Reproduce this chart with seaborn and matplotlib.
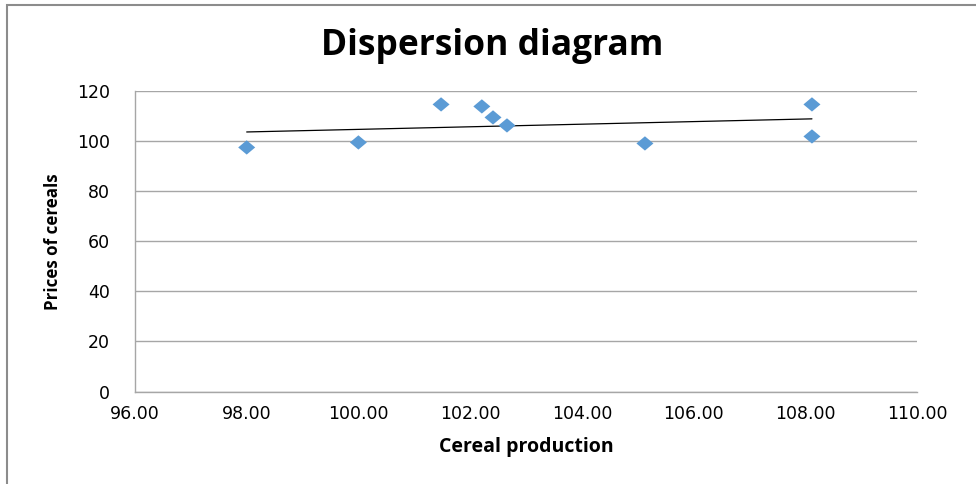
import matplotlib
matplotlib.use("Agg")
import matplotlib.pyplot as plt
from matplotlib.patches import Rectangle
import pandas as pd
import seaborn as sns

# Cereal production vs. prices of cereals
production = [98.00, 100.00, 101.48, 102.21, 102.41, 102.66, 105.13, 108.12, 108.12]
prices = [97.6, 99.6, 114.8, 114.0, 109.6, 106.4, 99.2, 114.8, 102.0]

x_ticks = [96, 98, 100, 102, 104, 106, 108, 110]
y_ticks = [0, 20, 40, 60, 80, 100, 120]

df = pd.DataFrame({"production": production, "prices": prices})

sns.set_theme(style="white")
plt.rcParams["font.family"] = ["Open Sans", "DejaVu Sans"]
plt.rcParams["text.color"] = "black"
plt.rcParams["axes.labelcolor"] = "black"

fig = plt.figure(figsize=(9.76, 4.84), dpi=100)
ax = fig.add_axes([0.1383, 0.1911, 0.8012, 0.6200])

# Chart-area frame
fig.patches.append(Rectangle((7 / 976, -0.2), 1.5, 1.2 - 5 / 484,
                             transform=fig.transFigure, fill=False,
                             edgecolor="#8C8C8C", linewidth=1.5, zorder=0))

# Linear trend line over the data range
sns.regplot(data=df, x="production", y="prices", ax=ax, scatter=False,
            ci=None, truncate=True, color="black", line_kws={"linewidth": 0.9})

# Diamond markers, slightly wider than tall
diamond = [(-1, 0), (0, 0.84), (1, 0), (0, -0.84), (-1, 0)]
sns.scatterplot(data=df, x="production", y="prices", ax=ax, marker=diamond,
                s=150, color="#5B9BD5", edgecolor="none", linewidth=0, zorder=3)

ax.set_xlim(96, 110)
ax.set_ylim(0, 120)
ax.set_xticks(x_ticks)
ax.set_xticklabels([f"{v:.2f}" for v in x_ticks])
ax.set_yticks(y_ticks)
ax.set_yticklabels([str(v) for v in y_ticks])

ax.grid(axis="y", color="#A6A6A6", linewidth=1.0)
ax.grid(axis="x", visible=False)
ax.set_axisbelow(True)
for side in ["top", "right"]:
    ax.spines[side].set_visible(False)
for side in ["left", "bottom"]:
    ax.spines[side].set_color("#A6A6A6")
    ax.spines[side].set_linewidth(1.0)

ax.tick_params(axis="both", length=0, colors="black", labelsize=12.5)
ax.tick_params(axis="y", pad=18)
ax.tick_params(axis="x", pad=10)
for lbl in ax.get_xticklabels() + ax.get_yticklabels():
    lbl.set_fontfamily(["DejaVu Sans"])

ax.set_xlabel("Cereal production", fontsize=14, fontweight="bold", labelpad=10)
ax.set_ylabel("Prices of cereals", fontsize=12.2, fontweight="bold", labelpad=11)

fig.text(0.504, 0.905, "Dispersion diagram", ha="center", va="center",
         fontsize=25.5, fontweight="bold")

fig.savefig("out.png", dpi=100, facecolor="white")
